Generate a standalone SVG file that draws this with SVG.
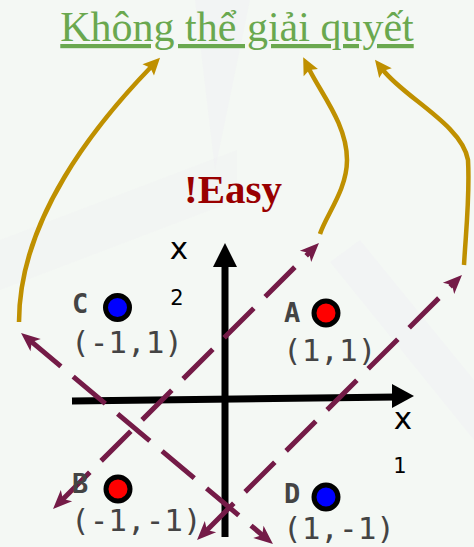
<svg xmlns="http://www.w3.org/2000/svg" width="474" height="547" viewBox="0 0 474 547">
<style>
.bg{fill:#f4f8f4}
.ray{fill:#efeff3}
.title{font-family:"Liberation Serif",serif;font-size:42px;fill:#6aa84f;text-decoration:underline}
.easy{font-family:"Liberation Serif",serif;font-size:41px;font-weight:bold;fill:#990000}
.ax{stroke:#000;stroke-width:7;fill:none}
.axl{font-family:"DejaVu Sans",sans-serif;font-size:31px;fill:#000;text-anchor:middle}
.sub{font-family:"DejaVu Sans",sans-serif;font-size:21px;fill:#000;text-anchor:middle}
.lbl{font-family:"DejaVu Sans Mono",monospace;font-size:27px;font-weight:bold;fill:#444}
.crd{font-family:"DejaVu Sans Mono",monospace;font-size:31px;fill:#444}
.pt{stroke:#000;stroke-width:5}
.dash{stroke:#741b47;stroke-width:5;fill:none;stroke-dasharray:42 16}
.curve{stroke:#bf9000;stroke-width:4.5;fill:none}
</style>
<defs>
<marker id="pa" markerUnits="userSpaceOnUse" viewBox="-10 -10 22 20" refX="0" refY="0" markerWidth="22" markerHeight="20" orient="auto-start-reverse">
<path d="M10,0 L-9,-8 L-4,0 L-9,8 Z" fill="#741b47"/>
</marker>
<marker id="oa" markerUnits="userSpaceOnUse" viewBox="-6 -10 22 20" refX="0" refY="0" markerWidth="22" markerHeight="20" orient="auto">
<path d="M13,0 L-4,-8 L-1,0 L-4,8 Z" fill="#bf9000"/>
</marker>
</defs>
<rect class="bg" x="0" y="0" width="474" height="547"/>
<polygon class="ray" points="195,0 250,0 215,170" opacity="0.45"/>
<polygon class="ray" points="330,262 360,240 474,380 474,440" opacity="0.45"/>
<polygon class="ray" points="0,240 0,290 237,200 237,150" opacity="0.3"/>

<g id="title">
<text class="title" x="237" y="41" text-anchor="middle">Không thể giải quyết</text>
</g>
<g id="easy">
<text class="easy" x="233" y="203" text-anchor="middle">!Easy</text>
</g>

<g id="axes">
<path class="ax" d="M225,537 L225,262"/>
<polygon points="225,243 213,267 237,267" fill="#000"/>
<path class="ax" d="M72,401 L397,397"/>
<polygon points="414,396 392,384 392,408" fill="#000"/>
<text class="axl" x="179" y="259">x</text>
<text class="sub" x="177" y="305">2</text>
<text class="axl" x="403" y="429">x</text>
<text class="sub" x="400" y="473">1</text>
</g>

<g id="connectors">
<path class="dash" d="M28.7,339.4 L265.3,537.6" marker-start="url(#pa)" marker-end="url(#pa)"/>
<path class="dash" d="M60.1,501.9 L311.9,250.1" marker-start="url(#pa)" marker-end="url(#pa)"/>
<path class="dash" d="M204.1,532.9 L454.9,282.1" marker-start="url(#pa)" marker-end="url(#pa)"/>
<path class="curve" d="M19,322 C19,220 95,125 151,67" marker-end="url(#oa)"/>
<path class="curve" d="M320,234 C326,215 347,190 347,160 C347,125 322,95 309,69" marker-end="url(#oa)"/>
<path class="curve" d="M464,265 C466,230 470,195 468,160 C462,125 405,98 383,70" marker-end="url(#oa)"/>
</g>

<g id="nodeA">
<circle class="pt" cx="326" cy="313" r="12" fill="#ff0000"/>
<text class="lbl" x="284" y="322">A</text>
<text class="crd" x="283" y="361">(1,1)</text>
</g>
<g id="nodeC">
<circle class="pt" cx="117.5" cy="307.5" r="12" fill="#0000ff"/>
<text class="lbl" x="72" y="313">C</text>
<text class="crd" x="71" y="353">(-1,1)</text>
</g>
<g id="nodeB">
<circle class="pt" cx="118" cy="489" r="12" fill="#ff0000"/>
<text class="lbl" x="72" y="493">B</text>
<text class="crd" x="71" y="531">(-1,-1)</text>
</g>
<g id="nodeD">
<circle class="pt" cx="326" cy="497" r="12" fill="#0000ff"/>
<text class="lbl" x="284" y="503">D</text>
<text class="crd" x="283" y="539">(1,-1)</text>
</g>
</svg>
